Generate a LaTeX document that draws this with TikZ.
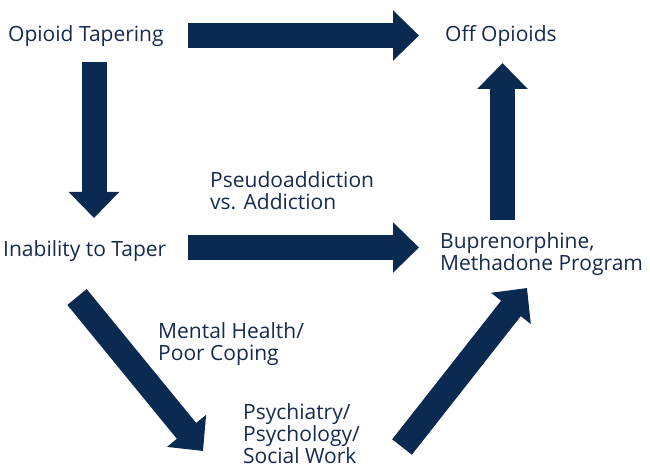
\documentclass[tikz,border=0pt]{standalone}
\usepackage{fontspec}
\setmainfont{Open Sans}
\usetikzlibrary{arrows.meta}
\definecolor{navy}{RGB}{11,42,82}
\definecolor{txt}{RGB}{22,42,78}
\tikzset{
  bigarrow/.style={draw=navy, line width=25pt, line cap=butt,
    -{Triangle[length=26pt,width=49pt]}},
  lbl/.style={text=txt, inner sep=0pt, anchor=base west, align=left,
    font=\fontsize{21pt}{22pt}\selectfont}
}
\begin{document}
\begin{tikzpicture}[x=1pt,y=-1pt]
\useasboundingbox (0,0) rectangle (650,470);
% labels (multi-line nodes: base = last line)
\node[lbl] (taper) at (8,42) {Opioid Tapering};
\node[lbl] (off) at (445,42) {Off Opioids};
\node[lbl] (inab) at (3,257) {Inability to Taper};
\node[lbl] (pseudo) at (210,210) {Pseudoaddiction\\vs. Addiction};
\node[lbl] (bup) at (440,270) {Buprenorphine,\\Methadone Program};
\node[lbl] (mental) at (158,360) {Mental Health/\\Poor Coping};
\node[lbl] (psych) at (243,463) {Psychiatry/\\Psychology/\\Social Work};
% arrow end points
\coordinate (a1s) at (188,35.5);  \coordinate (a1e) at (419,35.5);
\coordinate (a2s) at (94,62);     \coordinate (a2e) at (94,218);
\coordinate (a3s) at (188,247.5); \coordinate (a3e) at (419,247.5);
\coordinate (a4s) at (502.5,220); \coordinate (a4e) at (502.5,63);
\coordinate (a5s) at (77,297);    \coordinate (a5e) at (203,451);
\coordinate (a6s) at (402,447);   \coordinate (a6e) at (527,288);
\draw[bigarrow] (a1s) -- (a1e);
\draw[bigarrow] (a2s) -- (a2e);
\draw[bigarrow] (a3s) -- (a3e);
\draw[bigarrow] (a4s) -- (a4e);
\draw[bigarrow] (a5s) -- (a5e);
\draw[bigarrow] (a6s) -- (a6e);
\end{tikzpicture}
\end{document}
